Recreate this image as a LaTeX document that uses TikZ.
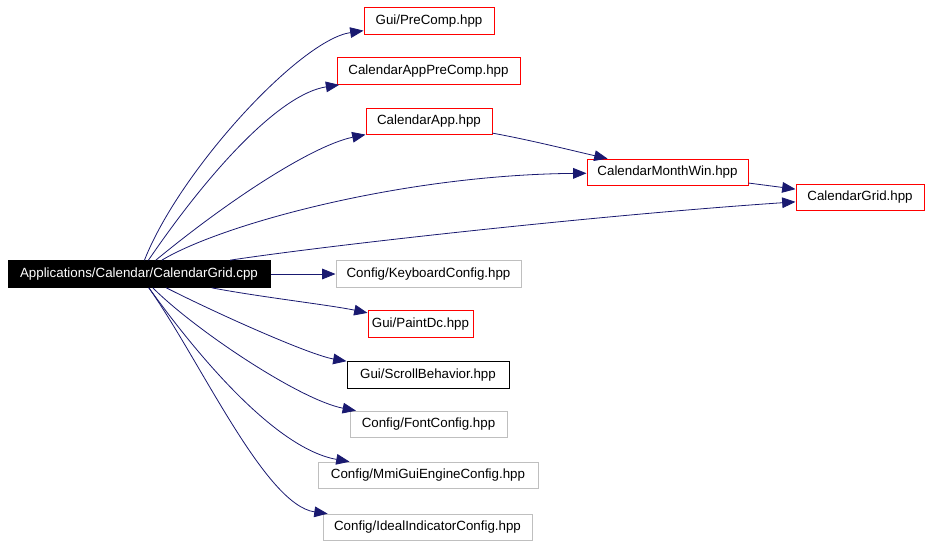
\documentclass[tikz,border=0pt]{standalone}
\usepackage{fontspec}
\setmainfont{Liberation Sans}
\usetikzlibrary{arrows.meta}
\definecolor{edgeblue}{RGB}{25,25,112}
\definecolor{boxgray}{RGB}{191,191,191}
\tikzset{
  filebox/.style={draw, line width=0.75pt, fill=white, inner sep=0pt, minimum height=20pt, font=\fontsize{10}{12}\selectfont},
  rootbox/.style={filebox, draw=black, fill=black, text=white},
  redbox/.style={filebox, draw=red},
  graybox/.style={filebox, draw=boxgray},
  blackbox/.style={filebox, draw=black},
  dep/.style={draw=edgeblue, line width=0.6pt, -{Triangle[length=10pt,width=8pt]}, fill=none},
}

\begin{document}
\begin{tikzpicture}[x=0.75pt, y=-0.75pt]
\useasboundingbox (0,0) rectangle (931,547);
\node[rootbox, minimum width=196.5pt] (root) at (139,274) {Applications/Calendar/CalendarGrid.cpp};
\node[redbox, minimum width=97.5pt] (precomp) at (429,21) {Gui/PreComp.hpp};
\node[redbox, minimum width=137.25pt] (apppre) at (428.5,71) {CalendarAppPreComp.hpp};
\node[redbox, minimum width=94.5pt] (app) at (429,121.5) {CalendarApp.hpp};
\node[redbox, minimum width=120.75pt] (monthwin) at (667.5,172.5) {CalendarMonthWin.hpp};
\node[redbox, minimum width=96pt] (grid) at (860,197.5) {CalendarGrid.hpp};
\node[graybox, minimum width=138.75pt] (keyboard) at (428.5,274) {Config/KeyboardConfig.hpp};
\node[redbox, minimum width=78.75pt] (paintdc) at (420.5,324) {Gui/PaintDc.hpp};
\node[blackbox, minimum width=121.5pt] (scroll) at (428,375) {Gui/ScrollBehavior.hpp};
\node[graybox, minimum width=117.75pt] (fontcfg) at (428.5,424.5) {Config/FontConfig.hpp};
\node[graybox, minimum width=165pt] (mmi) at (428,475.5) {Config/MmiGuiEngineConfig.hpp};
\node[graybox, minimum width=156.75pt] (ideal) at (427.5,527.5) {Config/IdealIndicatorConfig.hpp};
\draw[dep] (root) .. controls (180,170) and (300,40) .. (precomp);
\draw[dep] (root) .. controls (210,170) and (280,94) .. (apppre);
\draw[dep] (root) .. controls (235,195) and (315,145) .. (app);
\draw[dep] (root) .. controls (220,225) and (400,175) .. (monthwin);
\draw[dep] (root) .. controls (330,245) and (600,215) .. (grid);
\draw[dep] (app) .. controls (530,140) and (570,150) .. (monthwin);
\draw[dep] (monthwin) -- (grid);
\draw[dep] (root) -- (keyboard);
\draw[dep] (root) .. controls (260,297) and (330,305) .. (paintdc);
\draw[dep] (root) .. controls (220,315) and (310,355) .. (scroll);
\draw[dep] (root) .. controls (195,330) and (300,400) .. (fontcfg);
\draw[dep] (root) .. controls (190,345) and (272,448) .. (mmi);
\draw[dep] (root) .. controls (200,360) and (265,505) .. (ideal);
\end{tikzpicture}
\end{document}
